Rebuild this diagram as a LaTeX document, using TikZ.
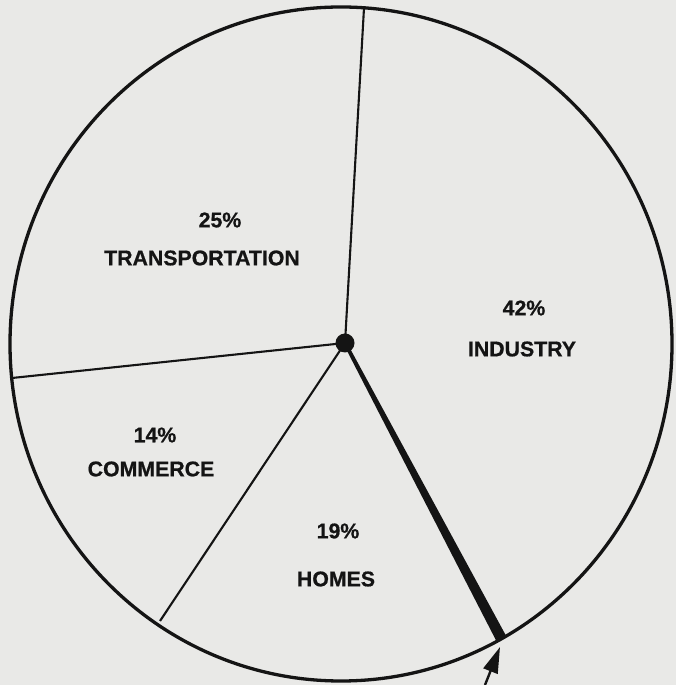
\documentclass[tikz,border=0pt]{standalone}
\usepackage{fontspec}
\setmainfont{Liberation Sans}
\newfontfamily\lblfont{Liberation Sans}[BoldFeatures={FakeBold=0.7}]
\usetikzlibrary{arrows.meta,calc}
\definecolor{paper}{RGB}{233,233,231}
\definecolor{ink}{RGB}{20,20,20}
\begin{document}
\begin{tikzpicture}[x=1pt,y=1pt,
  lbl/.style={font=\lblfont\fontsize{21.3}{24}\selectfont\bfseries, text=ink, inner sep=0pt},
  spoke/.style={draw=ink, line width=2.1pt},
  rim/.style={draw=ink, line width=3.3pt}]
  \fill[paper] (0,0) rectangle (676,685);
  \useasboundingbox (0,0) rectangle (676,685);
  % outline
  \draw[rim] (341,341) ellipse [x radius=331, y radius=337];
  % points on the rim
  \coordinate (top) at (364,677);
  \coordinate (left) at (12,307);
  \coordinate (ll) at (160,64);
  \coordinate (thick) at (501,47);
  \coordinate (tail) at (485,0);
  \coordinate (tip) at (500,38);
  % centre
  \node[circle, fill=ink, minimum size=19pt, inner sep=0pt] (c) at (345,342) {};
  % spokes
  \draw[spoke] (c.center) -- (top);
  \draw[spoke] (c.center) -- (left);
  \draw[spoke] (c.center) -- (ll);
  \fill[ink] ($(c.center)!1.8pt!90:(thick)$) -- ($(thick)!5.5pt!-90:(c.center)$)
     -- ($(thick)!5.5pt!90:(c.center)$) -- ($(c.center)!1.8pt!-90:(thick)$) -- cycle;
  % arrow
  \draw[ink, line width=2.4pt, -{Triangle[length=26pt,width=15pt]}] (tail) -- (tip);
  % labels
  \node[lbl] (p25) at (220,465) {25\%};
  \node[lbl] (t25) at (202,427) {TRANSPORTATION};
  \node[lbl] (p42) at (524,377) {42\%};
  \node[lbl] (t42) at (522,336) {INDUSTRY};
  \node[lbl] (p14) at (155,250) {14\%};
  \node[lbl] (t14) at (151,216) {COMMERCE};
  \node[lbl] (p19) at (338,154) {19\%};
  \node[lbl] (t19) at (336,106) {HOMES};
\end{tikzpicture}
\end{document}
